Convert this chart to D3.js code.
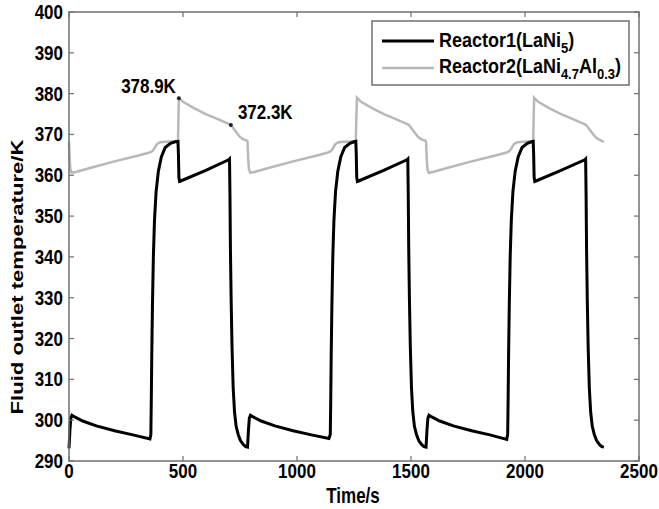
<body style="margin:0"></body>

<style>
    text {
        font-family: Arial, "Liberation Sans", sans-serif;
        font-weight: bold;
        fill: #000;
    }
</style>

<script type='text/javascript' src='https://d3js.org/d3.v7.min.js'></script>
<script>
    // Reactor1 (LaNi5) outlet temperature
    var time1 = [0, 4, 8, 13, 25, 60, 120, 200, 280, 355, 359, 361, 363, 366, 370, 375, 382, 392, 405, 422, 445, 465, 478,
        480, 482, 485, 490, 600, 700, 704, 706, 708, 711, 715, 720, 726, 733, 742, 752, 765, 775,
        783, 787, 791, 796, 808, 843, 903, 983, 1063, 1140, 1146, 1148, 1150, 1153, 1157, 1162, 1169, 1179, 1192, 1209, 1232, 1250, 1258,
        1260, 1262, 1265, 1270, 1380, 1482, 1486, 1488, 1490, 1493, 1497, 1502, 1508, 1515, 1524, 1534, 1547, 1557,
        1566, 1570, 1574, 1579, 1591, 1626, 1686, 1766, 1846, 1920, 1924, 1926, 1928, 1931, 1935, 1940, 1947, 1957, 1970, 1987, 2010, 2028, 2036,
        2038, 2040, 2043, 2048, 2158, 2262, 2266, 2268, 2270, 2273, 2277, 2282, 2288, 2295, 2304, 2314, 2327, 2337, 2346];
    var temp1 = [293.1, 297.5, 300.5, 301.2, 300.8, 299.8, 298.6, 297.4, 296.4, 295.4, 296.5, 305, 316, 328, 340, 349, 356, 361, 364.5, 366.8, 367.8, 368.2, 368.3,
        365, 359.5, 358.5, 358.6, 361.2, 363.8, 364, 355, 342, 330, 318, 308, 302, 298.5, 296.5, 295, 294, 293.5,
        293.4, 297.5, 300.5, 301.2, 300.8, 299.8, 298.6, 297.4, 296.4, 295.5, 296.5, 305, 316, 328, 340, 349, 356, 361, 364.5, 366.8, 367.8, 368.2, 368.3,
        365, 359.5, 358.5, 358.6, 361.2, 363.8, 364, 355, 342, 330, 318, 308, 302, 298.5, 296.5, 295, 294, 293.5,
        293.4, 297.5, 300.5, 301.2, 300.8, 299.8, 298.6, 297.4, 296.4, 295.3, 296.5, 305, 316, 328, 340, 349, 356, 361, 364.5, 366.8, 367.8, 368.2, 368.3,
        365, 359.5, 358.5, 358.6, 361.2, 363.8, 364, 355, 342, 330, 318, 308, 302, 298.5, 296.5, 295, 294, 293.5, 293.4];

    // Reactor2 (LaNi4.7Al0.3) outlet temperature
    var time2 = [0, 3, 6, 12, 30, 100, 200, 300, 350, 365, 375, 385, 400, 440, 478, 480, 482, 500, 550, 600, 650, 700, 710, 720, 735, 750, 765, 780,
        783, 786, 789, 795, 813, 883, 983, 1083, 1133, 1148, 1158, 1168, 1183, 1223, 1258, 1260, 1263, 1281, 1331, 1381, 1431, 1481, 1491, 1501, 1516, 1531, 1546, 1563,
        1566, 1569, 1572, 1578, 1596, 1666, 1766, 1866, 1916, 1931, 1941, 1951, 1966, 2006, 2036, 2038, 2040, 2058, 2108, 2158, 2208, 2258, 2268, 2278, 2293, 2308, 2323, 2346];
    var temp2 = [368.3, 364, 361.5, 360.6, 360.8, 361.9, 363.4, 364.8, 365.5, 365.9, 366.6, 367.6, 368.1, 368.3, 368.3, 374, 378.9, 378.0, 376.4, 375.0, 373.8, 372.6, 372.3, 371.6, 370.5, 369.4, 368.8, 368.5,
        368.3, 364, 361.5, 360.6, 360.8, 361.9, 363.4, 364.8, 365.5, 365.9, 366.6, 367.6, 368.1, 368.3, 368.3, 374, 379.0, 378.0, 376.4, 375.0, 373.8, 372.6, 372.3, 371.6, 370.5, 369.4, 368.8, 368.5,
        368.3, 364, 361.5, 360.6, 360.8, 361.9, 363.4, 364.8, 365.5, 365.9, 366.6, 367.6, 368.1, 368.3, 368.3, 374, 379.0, 378.0, 376.4, 375.0, 373.8, 372.6, 372.3, 371.6, 370.5, 369.4, 368.8, 368.2];

    var xTicks = [0, 500, 1000, 1500, 2000, 2500];
    var yTicks = [290, 300, 310, 320, 330, 340, 350, 360, 370, 380, 390, 400];

    // marked points
    var markTime = [482, 710];
    var markTemp = [378.9, 372.3];
    var markLabel = ["378.9K", "372.3K"];

    const xSize = 659; const ySize = 509;
    const mLeft = 69, mTop = 12, mRight = 639, mBottom = 461;

    const svg = d3.select("body")
        .append("svg")
        .attr('width', xSize)
        .attr('height', ySize)
        .style("background", "#fff");

    var x = d3.scaleLinear().domain([0, 2500]).range([mLeft, mRight]);
    var y = d3.scaleLinear().domain([290, 400]).range([mBottom, mTop]);

    // stretched text helper (the figure is a bit taller than wide)
    function label(g, px, py, str, anchor, size, sy) {
        return g.append("text")
            .attr("transform", "translate(" + px + "," + py + ") scale(1," + sy + ")")
            .attr("text-anchor", anchor)
            .style("font-size", size + "px")
            .text(str);
    }

    var line = d3.line()
        .x(function (d) { return x(d[0]); })
        .y(function (d) { return y(d[1]); });

    var s1 = time1.map(function (t, i) { return [t, temp1[i]]; });
    var s2 = time2.map(function (t, i) { return [t, temp2[i]]; });

    var grey = "#b8b8b8";
    svg.append("path").attr("d", line(s2))
        .attr("fill", "none").attr("stroke", grey).attr("stroke-width", 2.5);
    svg.append("path").attr("d", line(s1))
        .attr("fill", "none").attr("stroke", "#000").attr("stroke-width", 3);

    // box + ticks
    var axisColor = "#707070";
    svg.append("rect").attr("x", mLeft).attr("y", mTop).attr("width", mRight - mLeft).attr("height", mBottom - mTop)
        .attr("fill", "none").attr("stroke", axisColor).attr("stroke-width", 1.5);

    xTicks.forEach(function (t) {
        svg.append("line").attr("x1", x(t)).attr("x2", x(t)).attr("y1", mBottom).attr("y2", mBottom - 5)
            .attr("stroke", axisColor).attr("stroke-width", 1.2);
        svg.append("line").attr("x1", x(t)).attr("x2", x(t)).attr("y1", mTop).attr("y2", mTop + 5)
            .attr("stroke", axisColor).attr("stroke-width", 1.2);
        label(svg, x(t), 478, t, "middle", 17, 1.15);
    });
    yTicks.forEach(function (t) {
        svg.append("line").attr("x1", mLeft).attr("x2", mLeft + 5).attr("y1", y(t)).attr("y2", y(t))
            .attr("stroke", axisColor).attr("stroke-width", 1.2);
        svg.append("line").attr("x1", mRight).attr("x2", mRight - 5).attr("y1", y(t)).attr("y2", y(t))
            .attr("stroke", axisColor).attr("stroke-width", 1.2);
        label(svg, 63, y(t) + 7, t, "end", 17, 1.15);
    });

    label(svg, 353, 503, "Time/s", "middle", 17, 1.3);
    svg.append("text")
        .attr("transform", "translate(23,277) rotate(-90) scale(1.3,1)")
        .attr("text-anchor", "middle")
        .style("font-size", "17px")
        .text("Fluid outlet temperature/K");

    // annotations
    markTime.forEach(function (t, i) {
        svg.append("circle").attr("cx", x(t)).attr("cy", y(markTemp[i])).attr("r", 2).attr("fill", "#222");
    });
    label(svg, x(markTime[0]) - 3, y(markTemp[0]) - 5, markLabel[0], "end", 17, 1.15);
    label(svg, x(markTime[1]) + 7, y(markTemp[1]) - 6, markLabel[1], "start", 17, 1.15);

    // legend
    var lg = svg.append("g");
    lg.append("rect").attr("x", 372).attr("y", 21).attr("width", 257).attr("height", 64)
        .attr("fill", "#fff").attr("stroke", axisColor).attr("stroke-width", 1.5);
    lg.append("line").attr("x1", 382).attr("x2", 434).attr("y1", 41).attr("y2", 41)
        .attr("stroke", "#000").attr("stroke-width", 3);
    lg.append("line").attr("x1", 382).attr("x2", 434).attr("y1", 68).attr("y2", 68)
        .attr("stroke", grey).attr("stroke-width", 2.5);

    var t1 = label(lg, 439, 47, "", "start", 18, 1.15);
    t1.append("tspan").text("Reactor1(LaNi");
    t1.append("tspan").attr("dy", 5).style("font-size", "13px").text("5");
    t1.append("tspan").attr("dy", -5).text(")");

    var t2 = label(lg, 439, 73, "", "start", 18, 1.15);
    t2.append("tspan").text("Reactor2(LaNi");
    t2.append("tspan").attr("dy", 5).style("font-size", "13px").text("4.7");
    t2.append("tspan").attr("dy", -5).text("Al");
    t2.append("tspan").attr("dy", 5).style("font-size", "13px").text("0.3");
    t2.append("tspan").attr("dy", -5).text(")");
</script>
